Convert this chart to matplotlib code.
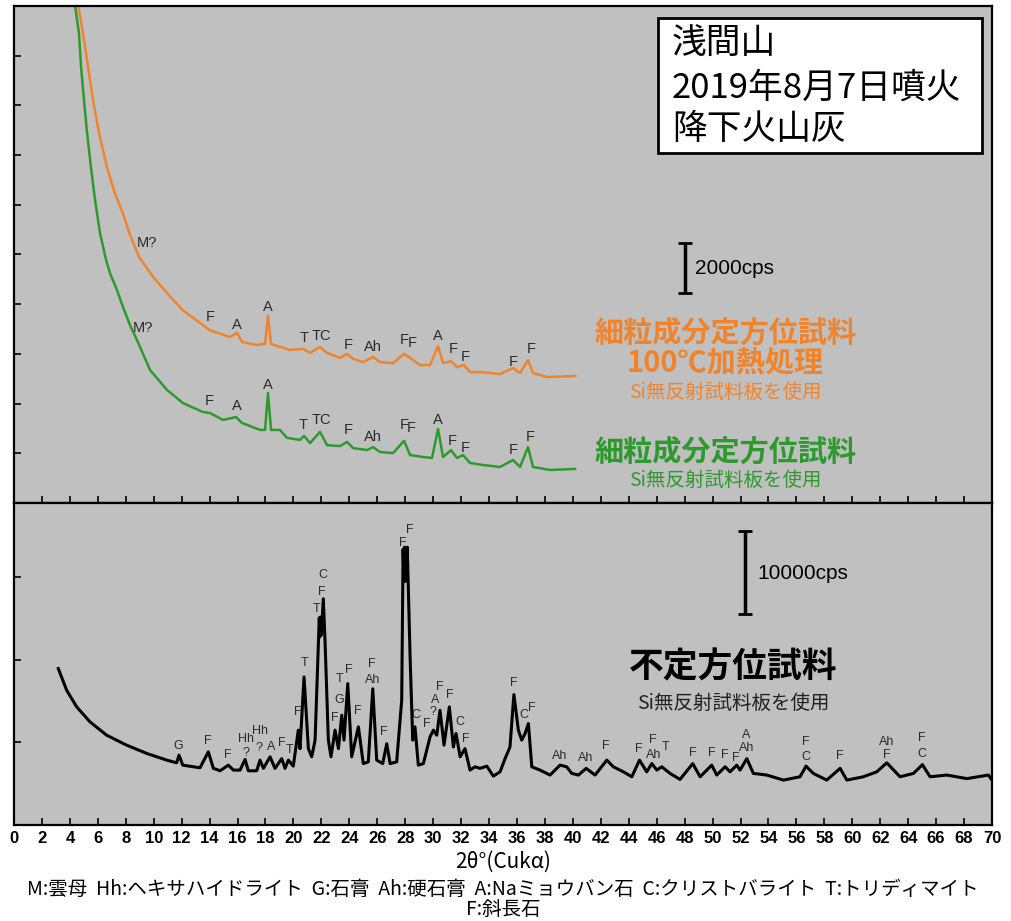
import matplotlib
matplotlib.use("Agg")
import matplotlib.pyplot as plt
from matplotlib.patches import Rectangle

plt.rcParams['font.family'] = ['Liberation Sans', 'Noto Sans CJK JP', 'DejaVu Sans']

# ---- data (2theta in degrees, intensity in cps) ----
# upper panel: oriented fine fraction, heated at 100 C (orange)
orange_x = [4.45, 4.94, 5.30, 5.66, 6.08, 6.66, 7.23, 7.80, 8.30, 8.95, 9.95, 10.95,
            12.10, 13.31, 14.03, 15.46, 15.96, 16.32, 17.39, 17.97, 18.18, 18.40, 19.04,
            19.76, 20.69, 21.19, 21.90, 22.41, 23.34, 23.84, 24.27, 24.98, 25.70, 26.20,
            27.13, 27.92, 28.35, 29.06, 29.78, 30.35, 30.71, 31.28, 31.71, 32.21, 32.64,
            33.36, 34.79, 35.72, 36.22, 36.79, 37.15, 38.15, 40.16]
orange_y = [20500, 18900, 17550, 16200, 14900, 13500, 12450, 11650, 10800, 9900, 9100, 8450,
            7750, 7250, 6950, 6680, 6850, 6480, 6360, 6400, 7530, 6400, 6280,
            6160, 6200, 6040, 6280, 6040, 5840, 6000, 5800, 5670, 5880, 5670,
            5630, 6000, 5840, 5550, 5550, 6320, 5630, 5710, 5470, 5550, 5270,
            5270, 5190, 5430, 5230, 5750, 5230, 5070, 5110]

# upper panel: oriented fine fraction (green)
green_x = [4.25, 4.65, 4.80, 5.01, 5.23, 5.51, 5.80, 6.16, 6.59, 6.87, 7.37, 7.80, 8.30,
           8.80, 9.74, 10.95, 12.10, 13.53, 14.03, 14.96, 15.89, 16.32, 17.61, 17.97,
           18.18, 18.40, 19.04, 19.54, 20.47, 20.76, 21.19, 21.90, 22.41, 23.34, 23.84,
           24.27, 25.27, 25.70, 26.20, 27.13, 27.92, 28.35, 29.28, 29.92, 30.35, 30.71,
           31.28, 31.71, 32.14, 32.64, 33.57, 34.79, 35.72, 36.22, 36.79, 37.15, 38.37, 40.16]
green_y = [20500, 18900, 17550, 16200, 14900, 13500, 12200, 10850, 9780, 9250, 8570, 7890, 7160,
           6560, 5350, 4550, 4020, 3660, 3620, 3340, 3460, 3220, 2940, 2940,
           4430, 2940, 2940, 2620, 2540, 2700, 2410, 2860, 2330, 2290, 2460,
           2210, 2130, 2250, 2050, 2010, 2500, 1930, 1850, 1810, 2980, 1850,
           2130, 1810, 1930, 1610, 1530, 1450, 1730, 1450, 2250, 1450, 1330, 1370]

# lower panel: random (non-oriented) sample
bulk_x = [3.17, 3.77, 4.49, 5.44, 6.63, 8.06, 9.50, 10.93, 11.64, 11.81, 12.08, 13.31,
          13.91, 14.27, 14.75, 15.34, 15.70, 16.18, 16.54, 16.77, 17.37, 17.61, 17.85,
          18.33, 18.68, 19.16, 19.40, 19.64, 19.99, 20.35, 20.47, 20.76, 21.07, 21.31,
          21.55, 21.80, 21.85, 21.90, 21.95, 22.00, 22.14, 22.26, 22.50, 22.69, 22.98,
          23.22, 23.46, 23.62, 23.89, 24.17, 24.65, 25.00, 25.36, 25.68, 25.96, 26.39,
          26.68, 26.92, 27.39, 27.75, 27.85, 27.90, 27.95, 28.00, 28.05, 28.10, 28.15,
          28.35, 28.54, 28.70, 28.94, 29.30, 29.78, 30.02, 30.26, 30.49, 30.78, 31.16,
          31.45, 31.64, 31.93, 32.28, 32.64, 33.00, 33.36, 33.84, 34.31, 34.79, 35.15,
          35.50, 35.78, 36.10, 36.34, 36.58, 36.82, 37.06, 37.65, 38.37, 39.08, 39.56,
          39.92, 40.40, 40.95, 41.59, 42.43, 42.90, 43.62, 44.22, 44.77, 45.29, 45.65,
          46.01, 46.36, 46.96, 47.67, 48.58, 49.11, 49.46, 49.94, 50.30, 50.90, 51.25,
          51.73, 51.97, 52.45, 52.92, 53.88, 55.07, 56.26, 56.69, 57.21, 58.17, 59.13,
          59.61, 60.79, 61.75, 62.47, 63.42, 64.38, 65.02, 65.57, 66.76, 68.20, 69.74, 70.00]
bulk_y = [18950, 16320, 14300, 12490, 10880, 9670, 8670, 7860, 7530, 8460, 7250, 6930,
          8860, 6860, 6570, 7250, 6650, 6650, 7940, 6570, 6570, 7860, 6860,
          8260, 6860, 8040, 6860, 7860, 7130, 11490, 9250, 17930, 9250, 8260,
          10280, 22600, 25100, 22800, 25200, 23000, 27400, 22370, 10280, 8260, 11490,
          9250, 13300, 10280, 17130, 8260, 11890, 7440, 7650, 16500, 7860, 7440,
          9850, 7440, 7650, 15110, 33400, 30000, 33650, 29500, 33600, 30500, 33650,
          20350, 10280, 11890, 7250, 7440, 10680, 11490, 10880, 13900, 9670, 14300,
          9450, 11080, 8260, 9250, 6650, 7050, 6860, 7130, 5920, 6440, 8040,
          9450, 15800, 11490, 10280, 11080, 12290, 7050, 6650, 6050, 7250, 7050,
          6250, 6050, 6860, 6050, 7860, 7050, 6440, 5840, 7860, 6440, 7440,
          6650, 7050, 6250, 5520, 7440, 5840, 6440, 7250, 6050, 7050, 6440,
          7250, 6650, 8040, 6250, 6050, 5440, 5840, 7130, 6250, 5440, 6860,
          5440, 5840, 6440, 7530, 5840, 6250, 7310, 5840, 6050, 5620, 6050, 5440]

# peak labels (2theta, cps, mineral)
orange_lab_x = [9.52, 14.03, 15.96, 18.18, 20.76, 21.98, 23.91, 25.70, 27.92, 28.49, 30.35, 31.42, 32.28, 35.72, 37.01]
orange_lab_y = [10460, 7480, 7160, 7890, 6640, 6720, 6360, 6280, 6560, 6440, 6720, 6200, 5880, 5670, 6200]
orange_lab_t = ['M?', 'F', 'A', 'A', 'T', 'TC', 'F', 'Ah', 'F', 'F', 'A', 'F', 'F', 'F', 'F']

green_lab_x = [9.23, 13.96, 15.96, 18.18, 20.69, 21.98, 23.91, 25.70, 27.92, 28.42, 30.35, 31.35, 32.28, 35.72, 36.94]
green_lab_y = [7040, 4100, 3900, 4750, 3140, 3340, 2940, 2660, 3140, 3020, 3340, 2500, 2210, 2130, 2660]
green_lab_t = ['M?', 'F', 'A', 'A', 'T', 'TC', 'F', 'Ah', 'F', 'F', 'A', 'F', 'F', 'F', 'F']

bulk_lab_x = [11.76, 13.84, 15.30, 16.59, 16.59, 17.61, 17.54, 18.40, 19.16, 19.71, 20.28, 20.76,
              21.62, 22.03, 22.10, 22.98, 23.26, 23.29, 24.00, 24.60, 25.61, 25.68, 26.49, 27.82,
              28.35, 28.75, 29.54, 30.02, 30.14, 30.49, 31.21, 31.88, 32.36, 35.74, 36.46, 37.06,
              39.08, 40.95, 42.38, 44.69, 45.72, 45.76, 46.62, 48.58, 49.94, 50.90, 51.63, 52.40,
              52.45, 56.69, 56.69, 59.13, 62.47, 62.47, 64.98, 64.98]
bulk_lab_y = [9550, 10190, 8460, 10430, 8670, 11400, 9270, 9470, 9880, 9070, 13700, 19670,
              26200, 28210, 30230, 12900, 15200, 17740, 18740, 13820, 19550, 17530, 11210, 34180,
              35670, 13300, 12180, 13700, 15110, 16720, 15720, 12490, 10360, 17200, 13300, 14230,
              8340, 8060, 9550, 9150, 10280, 8460, 9390, 8740, 8740, 8460, 8060, 10880,
              9270, 10070, 8190, 8340, 10070, 8460, 10560, 8580]
bulk_lab_t = ['G', 'F', 'F', 'Hh', '?', 'Hh', '?', 'A', 'F', 'T', 'F', 'T',
              'T', 'F', 'C', 'F', 'G', 'T', 'F', 'F', 'F', 'Ah', 'F', 'F',
              'F', 'C', 'F', '?', 'A', 'F', 'F', 'C', 'F', 'F', 'C', 'F',
              'Ah', 'Ah', 'F', 'F', 'F', 'Ah', 'T', 'F', 'F', 'F', 'F', 'A',
              'Ah', 'F', 'C', 'F', 'Ah', 'F', 'F', 'C']

top_scale_cps = 2000
bottom_scale_cps = 10000

x_ticks = list(range(0, 71, 2))
top_yticks = list(range(2000, 19000, 2000))
bottom_yticks = [10000, 20000, 30000]

ORANGE = '#F0842C'
GREEN = '#2E9A2E'
PANEL = '#C0C0C0'
LABEL = '#2a2a2a'

fig = plt.figure(figsize=(10.12, 9.21), dpi=100)
ax_top = fig.add_axes([0.01383, 0.45386, 0.96640, 0.53963])
ax_bot = fig.add_axes([0.01383, 0.10423, 0.96640, 0.34962])

for ax in (ax_top, ax_bot):
    ax.set_facecolor(PANEL)
    ax.set_xlim(0, 70)
    ax.set_xticks(x_ticks)
    ax.tick_params(direction='in', length=5, width=1.2, color='k')
    for sp in ax.spines.values():
        sp.set_linewidth(1.6)

ax_top.set_ylim(0, 20000)
ax_top.set_yticks(top_yticks)
ax_top.set_yticklabels([])
ax_top.set_xticklabels([])
ax_bot.set_ylim(0, 39000)
ax_bot.set_yticks(bottom_yticks)
ax_bot.set_yticklabels([])
ax_bot.set_xticklabels([str(v) for v in x_ticks], fontsize=12, fontweight='bold')
ax_bot.tick_params(axis='x', pad=4)

# curves
ax_top.plot(orange_x, orange_y, color=ORANGE, lw=1.8)
ax_top.plot(green_x, green_y, color=GREEN, lw=1.8)
ax_bot.plot(bulk_x, bulk_y, color='k', lw=2.2)

# peak labels
for x, y, t in zip(orange_lab_x, orange_lab_y, orange_lab_t):
    ax_top.text(x, y, t, fontsize=10.5, ha='center', va='center', color=LABEL)
for x, y, t in zip(green_lab_x, green_lab_y, green_lab_t):
    ax_top.text(x, y, t, fontsize=10.5, ha='center', va='center', color=LABEL)
for x, y, t in zip(bulk_lab_x, bulk_lab_y, bulk_lab_t):
    ax_bot.text(x, y, t, fontsize=9, ha='center', va='center', color=LABEL)

# scale bars
ax_top.errorbar(48.0, 9450, yerr=top_scale_cps / 2, fmt='none', ecolor='k',
                elinewidth=2.5, capsize=5, capthick=2)
ax_top.text(48.75, 9450, f'{top_scale_cps}cps', fontsize=15, ha='left', va='center')
ax_bot.errorbar(52.3, 30600, yerr=bottom_scale_cps / 2, fmt='none', ecolor='k',
                elinewidth=2.5, capsize=5, capthick=2)
ax_bot.text(53.2, 30500, f'{bottom_scale_cps}cps', fontsize=15, ha='left', va='center')

# sample captions
jp = ['Noto Sans CJK JP']
ax_top.text(50.9, 6840, '細粒成分定方位試料', color=ORANGE, fontsize=21, fontweight='bold',
            ha='center', va='center', family=jp)
ax_top.text(50.9, 5640, '100℃加熱処理', color=ORANGE, fontsize=21, fontweight='bold',
            ha='center', va='center', family=jp)
ax_top.text(50.9, 4430, 'Si無反射試料板を使用', color=ORANGE, fontsize=14,
            ha='center', va='center', family=jp)
ax_top.text(50.9, 2050, '細粒成分定方位試料', color=GREEN, fontsize=21, fontweight='bold',
            ha='center', va='center', family=jp)
ax_top.text(50.9, 890, 'Si無反射試料板を使用', color=GREEN, fontsize=14,
            ha='center', va='center', family=jp)

ax_bot.text(51.47, 19100, '不定方位試料', color='k', fontsize=25, fontweight='bold',
            ha='center', va='center', family=jp)
ax_bot.text(51.47, 14750, 'Si無反射試料板を使用', color='#222222', fontsize=14,
            ha='center', va='center', family=jp)

# title box
ax_top.add_patch(Rectangle((0.6585, 0.7042), 0.3313, 0.2717, transform=ax_top.transAxes,
                           facecolor='white', edgecolor='k', lw=2, zorder=5))
for yy, line in zip([0.9256, 0.835, 0.7505], ['浅間山', '2019年8月7日噴火', '降下火山灰']):
    ax_top.text(0.6728, yy, line, transform=ax_top.transAxes, fontsize=25,
                ha='left', va='center', family=jp, zorder=6)

# axis title and legend of mineral abbreviations
fig.text(0.497, 1 - 862 / 921, '2θ°(Cukα)', fontsize=15, ha='center', va='center', family=jp)
fig.text(0.497, 1 - 889 / 921,
         'M:雲母  Hh:ヘキサハイドライト  G:石膏  Ah:硬石膏  A:Naミョウバン石  C:クリストバライト  T:トリディマイト',
         fontsize=14, ha='center', va='center', family=jp)
fig.text(0.497, 1 - 909 / 921, 'F:斜長石', fontsize=14, ha='center', va='center', family=jp)

fig.savefig('out.png', dpi=100, facecolor='white')
